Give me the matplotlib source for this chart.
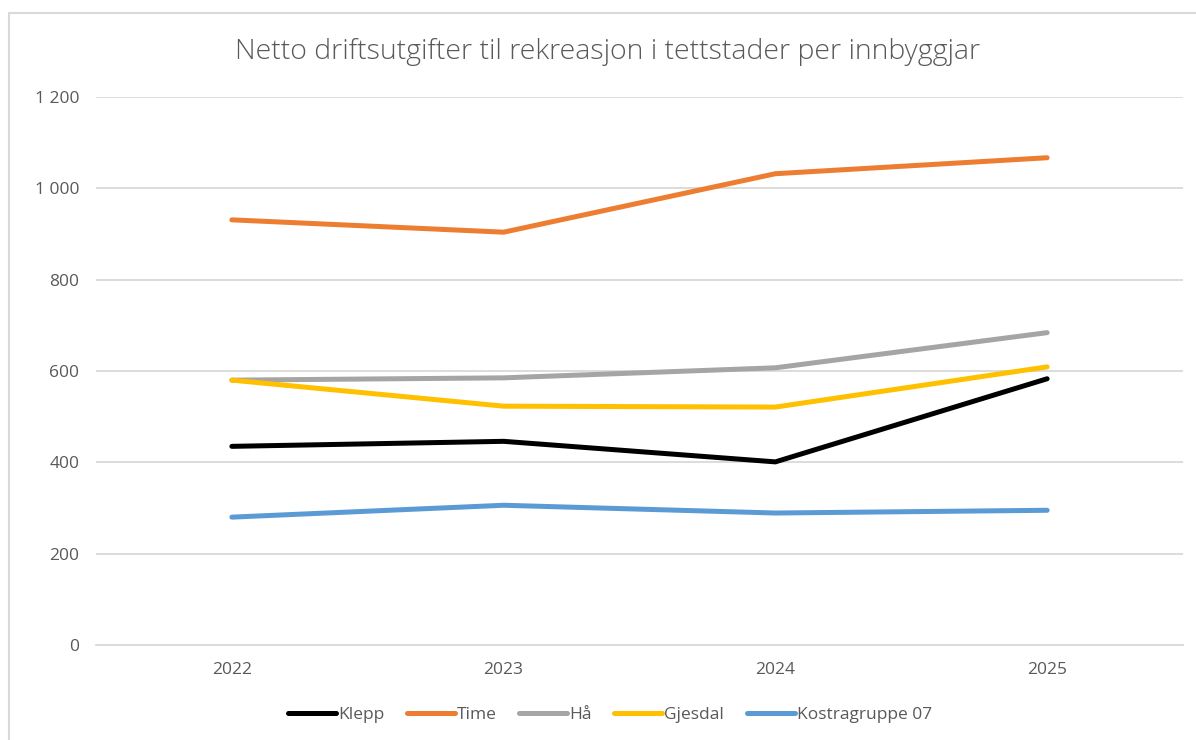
import matplotlib
matplotlib.use('Agg')
import matplotlib.pyplot as plt
from matplotlib.patches import Rectangle

# Data
years = ['2022', '2023', '2024', '2025']
klepp = [435, 446, 401, 583]
time_ = [931, 904, 1032, 1067]
haa = [580, 585, 607, 684]
gjesdal = [580, 523, 521, 609]
kostra = [280, 306, 289, 295]

series_names = ['Klepp', 'Time', 'Hå', 'Gjesdal', 'Kostragruppe 07']
series_values = [klepp, time_, haa, gjesdal, kostra]
series_colors = ['#000000', '#ED7D31', '#A5A5A5', '#FFC000', '#5B9BD5']

yticks = [0, 200, 400, 600, 800, 1000, 1200]
ytick_labels = ['0', '200', '400', '600', '800', '1 000', '1 200']

plt.rcParams['font.family'] = ['Open Sans', 'DejaVu Sans']
text_color = '#595959'

fig = plt.figure(figsize=(11.96, 7.40), dpi=100)
ax = fig.add_axes([96/1196, 1-645/740, (1183-96)/1196, (645-97)/740])

# chart area border
fig.patches.append(Rectangle((9/1196, -0.01), 1.0, 1-13/740+0.01, transform=fig.transFigure,
                             fill=False, edgecolor='#d9d9d9', linewidth=1.5))

x = range(len(years))
for name, vals, col in zip(series_names, series_values, series_colors):
    ax.plot(x, vals, color=col, linewidth=3.6, label=name, solid_capstyle='round',
            solid_joinstyle='round')

ax.set_xlim(-0.5, len(years)-0.5)
ax.set_ylim(0, 1200)
ax.set_yticks(yticks)
ax.set_yticklabels(ytick_labels)
ax.set_xticks(list(x))
ax.set_xticklabels(years)
ax.yaxis.grid(True, color='#d9d9d9', linewidth=1.3)
ax.set_axisbelow(True)
for s in ['top', 'right', 'left']:
    ax.spines[s].set_visible(False)
ax.spines['bottom'].set_color('#d9d9d9')
ax.spines['bottom'].set_linewidth(1.3)
ax.tick_params(axis='both', length=0, colors=text_color, labelsize=12.5)
ax.tick_params(axis='y', pad=12)
ax.tick_params(axis='x', pad=12)

fig.text(608/1196, 1-52/740, 'Netto driftsutgifter til rekreasjon i tettstader per innbyggjar',
         ha='center', va='center', fontsize=20.5, color=text_color, fontweight='light')

leg = ax.legend(loc='center', bbox_to_anchor=(610/1196, 1-715/740), bbox_transform=fig.transFigure,
                ncol=5, frameon=False, fontsize=12.5, handlelength=2.76, handletextpad=0.12,
                columnspacing=1.3)
for t in leg.get_texts():
    t.set_color(text_color)

fig.savefig('out.png', dpi=100)
